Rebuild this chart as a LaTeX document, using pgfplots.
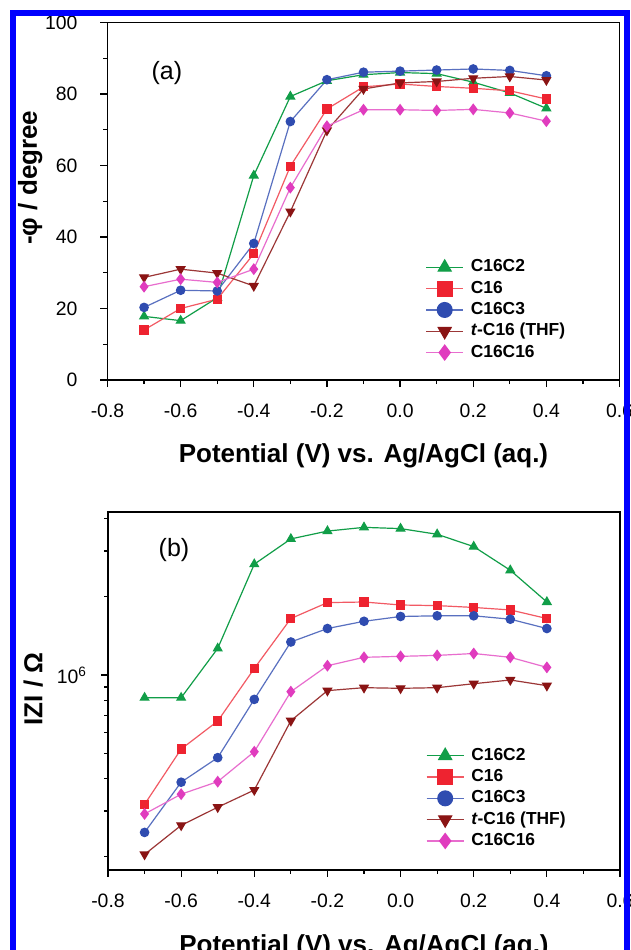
\documentclass[border=0pt]{standalone}
\usepackage{fontspec}
\setmainfont{Liberation Sans}
\usepackage{pgfplots}
\pgfplotsset{compat=1.18}

\definecolor{cgreen}{HTML}{119E48}
\definecolor{cred}{HTML}{EE2330}
\definecolor{cblue}{HTML}{2F4CB0}
\definecolor{cdred}{HTML}{8A1414}
\definecolor{cmag}{HTML}{E03CBE}
\definecolor{frameblue}{HTML}{0000FF}

\pgfplotsset{
  panel/.style={
    scale only axis, width=256pt,
    xmin=-0.8, xmax=0.6,
    xtick={-0.8,-0.6,-0.4,-0.2,0,0.2,0.4,0.6},
    minor x tick num=1,
    tick align=outside, xtick pos=left, ytick pos=left,
    major tick length=3.5pt, minor tick length=2pt,
    axis line style={line width=0.8pt},
    every tick/.style={black, line width=0.6pt},
    tick label style={font=\fontsize{9.7}{11}\selectfont},
    /pgf/number format/assume math mode=true,
    xticklabel style={yshift=-5pt, /pgf/number format/.cd, fixed, fixed zerofill, precision=1},
    label style={font=\bfseries\fontsize{13}{15}\selectfont},
    xlabel style={at={(axis description cs:0.5,-0.232)}, anchor=base},
    legend cell align=left,
    legend style={draw=none, fill=none, inner sep=0pt, row sep=2.15pt,
      font=\bfseries\fontsize{8.7}{10}\selectfont,
      nodes={inner sep=0pt, text height=6.5pt, text depth=2pt}},
    /tikz/every odd column/.append style={column sep=3.5pt},
    legend image code/.code={
      \draw[mark repeat=2,mark phase=2,#1] plot coordinates {(0pt,0pt) (9.25pt,0pt) (18.5pt,0pt)};},
    legend image post style={mark size=3.7pt},
    every axis plot/.append style={line width=0.6pt},
  },
  sgreen/.style={color=cgreen, mark=triangle*, mark size=2.4pt, mark options={solid}},
  sred/.style={color=cred!75, mark=square*, mark size=2pt, mark options={solid, fill=cred, draw=cred}},
  sblue/.style={color=cblue!80, mark=*, mark size=2.1pt, mark options={solid, fill=cblue, draw=cblue}},
  sdred/.style={color=cdred!85, mark=triangle*, mark size=2.4pt, mark options={solid, rotate=180, fill=cdred, draw=cdred}},
  smag/.style={color=cmag!75, mark=diamond*, mark size=2.5pt, mark options={solid, fill=cmag, draw=cmag}},
}

\begin{document}
\begin{tikzpicture}
\fill[white] (0,0) rectangle (315.5pt,475pt);

% (a) phase angle
\begin{axis}[panel, at={(53.75pt,285pt)}, anchor=south west, height=178.75pt,
    ymin=0, ymax=100, ytick={0,20,40,60,80,100}, minor y tick num=1,
    yticklabel style={xshift=-8pt},
    xlabel={Potential (V) vs. Ag/AgCl (aq.)},
    ylabel={-φ / degree},
    ylabel style={at={(axis description cs:-0.151,0.566)}, anchor=center, rotate=0},
    legend style={at={(axis description cs:0.6205,0.34)}, anchor=north west}]
\addplot[sgreen] coordinates {(-0.7,17.8) (-0.6,16.6) (-0.5,23) (-0.4,57.2) (-0.3,79.3) (-0.2,83.7) (-0.1,85.4) (0,86) (0.1,85.7) (0.2,83.3) (0.3,80.3) (0.4,76)};
\addplot[sred] coordinates {(-0.7,14) (-0.6,20) (-0.5,22.6) (-0.4,35.3) (-0.3,59.8) (-0.2,75.8) (-0.1,82) (0,82.8) (0.1,82.1) (0.2,81.6) (0.3,80.9) (0.4,78.6)};
\addplot[sblue] coordinates {(-0.7,20.3) (-0.6,25.1) (-0.5,24.9) (-0.4,38.2) (-0.3,72.3) (-0.2,84) (-0.1,86.1) (0,86.4) (0.1,86.7) (0.2,87) (0.3,86.6) (0.4,85.1)};
\addplot[sdred] coordinates {(-0.7,28.7) (-0.6,31) (-0.5,29.9) (-0.4,26.3) (-0.3,47.1) (-0.2,69.8) (-0.1,81.4) (0,83.1) (0.1,83.5) (0.2,84.4) (0.3,84.9) (0.4,83.9)};
\addplot[smag] coordinates {(-0.7,26.1) (-0.6,28.2) (-0.5,27.3) (-0.4,31) (-0.3,53.8) (-0.2,71) (-0.1,75.6) (0,75.6) (0.1,75.4) (0.2,75.7) (0.3,74.7) (0.4,72.4)};
\legend{C16C2, C16, C16C3, \textit{t}-C16 (THF), C16C16}
\node[font=\fontsize{12.5}{14}\selectfont] at (axis cs:-0.6375,85.9) {(a)};
\end{axis}

% (b) impedance modulus
\begin{axis}[panel, at={(54pt,40pt)}, anchor=south west, height=179pt,
    ymode=log, ymin=1.778e5, ymax=4.24e6,
    ytick={1e6}, yticklabels={10\textsuperscript{6}},
    yticklabel style={xshift=-3.5pt},
    minor ytick={2e5,3e5,4e5,5e5,6e5,7e5,8e5,9e5,2e6,3e6,4e6},
    xlabel={Potential (V) vs. Ag/AgCl (aq.)},
    ylabel={IZI / Ω},
    ylabel style={at={(axis description cs:-0.146,0.506)}, anchor=center, rotate=0},
    legend style={at={(axis description cs:0.6205,0.344)}, anchor=north west}]
\addplot[sgreen] coordinates {(-0.7,8.18e5) (-0.6,8.18e5) (-0.5,1.266e6) (-0.4,2.67e6) (-0.3,3.34e6) (-0.2,3.58e6) (-0.1,3.70e6) (0,3.66e6) (0.1,3.48e6) (0.2,3.12e6) (0.3,2.53e6) (0.4,1.91e6)};
\addplot[sred] coordinates {(-0.7,3.18e5) (-0.6,5.19e5) (-0.5,6.65e5) (-0.4,1.06e6) (-0.3,1.65e6) (-0.2,1.90e6) (-0.1,1.91e6) (0,1.86e6) (0.1,1.85e6) (0.2,1.82e6) (0.3,1.78e6) (0.4,1.65e6)};
\addplot[sblue] coordinates {(-0.7,2.48e5) (-0.6,3.87e5) (-0.5,4.81e5) (-0.4,8.06e5) (-0.3,1.34e6) (-0.2,1.51e6) (-0.1,1.61e6) (0,1.68e6) (0.1,1.69e6) (0.2,1.69e6) (0.3,1.64e6) (0.4,1.51e6)};
\addplot[sdred] coordinates {(-0.7,2.04e5) (-0.6,2.64e5) (-0.5,3.10e5) (-0.4,3.61e5) (-0.3,6.67e5) (-0.2,8.71e5) (-0.1,8.94e5) (0,8.89e5) (0.1,8.94e5) (0.2,9.26e5) (0.3,9.57e5) (0.4,9.10e5)};
\addplot[smag] coordinates {(-0.7,2.92e5) (-0.6,3.48e5) (-0.5,3.89e5) (-0.4,5.07e5) (-0.3,8.63e5) (-0.2,1.086e6) (-0.1,1.17e6) (0,1.18e6) (0.1,1.19e6) (0.2,1.21e6) (0.3,1.17e6) (0.4,1.07e6)};
\legend{C16C2, C16, C16C3, \textit{t}-C16 (THF), C16C16}
\node[font=\fontsize{12.5}{14}\selectfont] at (axis cs:-0.6195,3.03e6) {(b)};
\end{axis}

\draw[frameblue, line width=3pt] (6.5pt,0pt) -- (6.5pt,468.35pt) -- (313.25pt,468.35pt) -- (313.25pt,0pt);
\pgfresetboundingbox
\path[use as bounding box] (0,0) rectangle (315.5pt,475pt);
\end{tikzpicture}
\end{document}
